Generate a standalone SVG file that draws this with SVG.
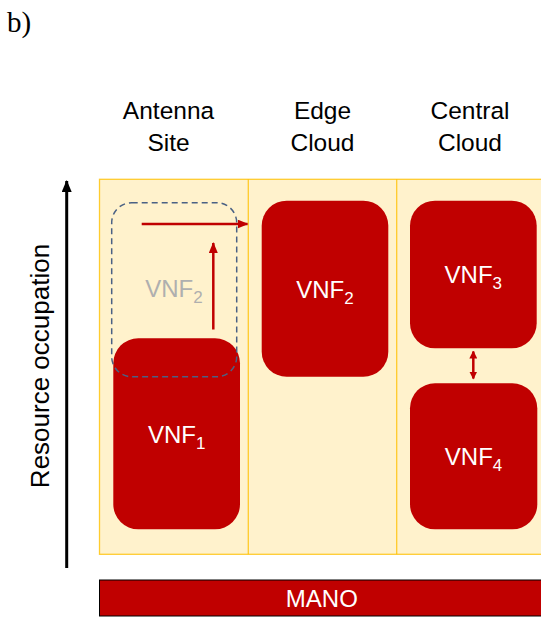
<svg xmlns="http://www.w3.org/2000/svg" width="541" height="617" viewBox="0 0 541 617">
<style>
.hdr{font-family:"Liberation Sans",Arial,sans-serif;font-size:24.5px;fill:#000;text-anchor:middle}
.vnf{font-family:"Liberation Sans",Arial,sans-serif;font-size:24px;fill:#fff;text-anchor:middle}
.box{fill:#C00000}
.conn{stroke:#C00000;stroke-width:2.5;fill:none}
</style>
<defs>
<marker id="ah" markerWidth="11" markerHeight="9" refX="10" refY="4.5" orient="auto" markerUnits="userSpaceOnUse">
<path d="M0,0 L11,4.5 L0,9 Z" fill="#C00000"/>
</marker>
<marker id="ahs" markerWidth="8" markerHeight="8" refX="7" refY="4" orient="auto-start-reverse" markerUnits="userSpaceOnUse">
<path d="M0,0 L8,4 L0,8 Z" fill="#C00000"/>
</marker>
<marker id="ahk" markerWidth="12" markerHeight="10" refX="11" refY="5" orient="auto" markerUnits="userSpaceOnUse">
<path d="M0,0 L12,5 L0,10 Z" fill="#000"/>
</marker>
</defs>
<rect width="541" height="617" fill="#fff"/>
<text x="7" y="32" font-family="Liberation Serif,'Times New Roman',serif" font-size="29" fill="#000">b)</text>

<g id="headers">
<text class="hdr" x="168.5" y="119">Antenna</text>
<text class="hdr" x="168.5" y="151">Site</text>
<text class="hdr" x="322.5" y="119">Edge</text>
<text class="hdr" x="322.5" y="151">Cloud</text>
<text class="hdr" x="470" y="119">Central</text>
<text class="hdr" x="470" y="151">Cloud</text>
</g>

<g id="axis">
<line x1="66.7" y1="568" x2="66.7" y2="181" stroke="#000" stroke-width="3" marker-end="url(#ahk)"/>
<text transform="translate(48.5,366) rotate(-90)" text-anchor="middle" font-family="Liberation Sans,Arial,sans-serif" font-size="26" fill="#000">Resource occupation</text>
</g>

<g id="background">
<rect x="99.5" y="179.3" width="443" height="375" fill="#FFF2CC" stroke="#FFC000" stroke-width="1.3" stroke-opacity="0.8"/>
<line x1="248.3" y1="179.3" x2="248.3" y2="554.3" stroke="#FFC000" stroke-width="1.3" stroke-opacity="0.8"/>
<line x1="396.7" y1="179.3" x2="396.7" y2="554.3" stroke="#FFC000" stroke-width="1.3" stroke-opacity="0.8"/>
</g>

<g id="vnf1">
<rect class="box" x="113.3" y="338.3" width="126.7" height="191" rx="25"/>
<text class="vnf" x="176.7" y="443">VNF<tspan font-size="17" dy="6">1</tspan></text>
</g>

<g id="vnf2-ghost">
<rect x="111.7" y="202.7" width="125" height="174" rx="20" fill="none" stroke="#4A6184" stroke-width="1.5" stroke-dasharray="6,4"/>
<text x="174" y="297" font-family="Liberation Sans,Arial,sans-serif" font-size="24" fill="#AFAFAF" text-anchor="middle">VNF<tspan font-size="17" dy="6">2</tspan></text>
</g>

<g id="vnf2">
<rect class="box" x="261.7" y="200.7" width="126.6" height="176" rx="25"/>
<text class="vnf" x="325" y="297.7">VNF<tspan font-size="17" dy="6">2</tspan></text>
</g>

<g id="vnf3">
<rect class="box" x="410" y="200.7" width="126.7" height="147.6" rx="25"/>
<text class="vnf" x="473.3" y="283.3">VNF<tspan font-size="17" dy="6">3</tspan></text>
</g>

<g id="vnf4">
<rect class="box" x="410" y="383.3" width="127.3" height="146" rx="25"/>
<text class="vnf" x="473.6" y="465">VNF<tspan font-size="17" dy="6">4</tspan></text>
</g>

<g id="connectors">
<line class="conn" x1="141.7" y1="224" x2="247.5" y2="224" marker-end="url(#ah)"/>
<line class="conn" x1="213.3" y1="329.5" x2="213.3" y2="243" marker-end="url(#ah)"/>
<line x1="473.3" y1="351.5" x2="473.3" y2="378.5" stroke="#C00000" stroke-width="2.5" marker-start="url(#ahs)" marker-end="url(#ahs)"/>
</g>

<g id="mano">
<rect x="99.5" y="580" width="443" height="36" fill="#C00000" stroke="#000" stroke-width="1"/>
<text class="vnf" x="321.8" y="606.5">MANO</text>
</g>
</svg>
